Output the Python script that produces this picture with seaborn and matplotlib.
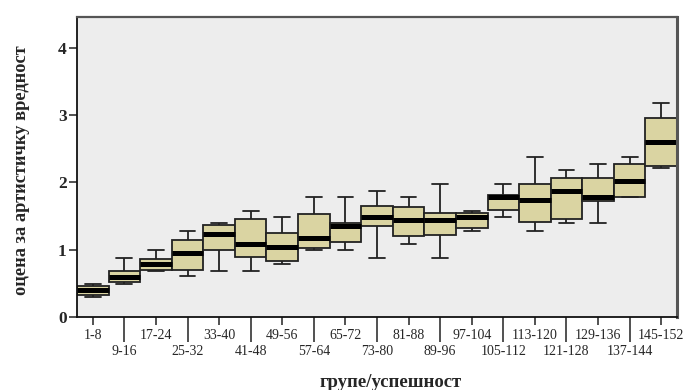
import numpy as np
import pandas as pd
import matplotlib
matplotlib.use("Agg")
import matplotlib.pyplot as plt
import seaborn as sns

groups = ["1-8", "9-16", "17-24", "25-32", "33-40", "41-48", "49-56", "57-64",
          "65-72", "73-80", "81-88", "89-96", "97-104", "105-112", "113-120",
          "121-128", "129-136", "137-144", "145-152"]
lo  = [0.29, 0.48, 0.68, 0.60, 0.68, 0.68, 0.78, 0.99, 0.99, 0.88, 1.08, 0.87, 1.27, 1.49, 1.27, 1.39, 1.39, 1.79, 2.21]
q1  = [0.32, 0.51, 0.69, 0.70, 1.00, 0.89, 0.83, 1.03, 1.11, 1.35, 1.20, 1.22, 1.32, 1.59, 1.41, 1.46, 1.72, 1.79, 2.25]
med = [0.40, 0.59, 0.78, 0.95, 1.23, 1.09, 1.04, 1.18, 1.35, 1.49, 1.44, 1.44, 1.49, 1.78, 1.74, 1.88, 1.78, 2.02, 2.61]
q3  = [0.46, 0.68, 0.86, 1.15, 1.37, 1.45, 1.24, 1.53, 1.39, 1.65, 1.64, 1.55, 1.55, 1.81, 1.97, 2.06, 2.06, 2.28, 2.96]
hi  = [0.48, 0.88, 1.00, 1.27, 1.39, 1.58, 1.49, 1.79, 1.79, 1.88, 1.79, 1.97, 1.58, 1.97, 2.38, 2.18, 2.28, 2.38, 3.19]

rows = []
for g, a, b, c, d, e in zip(groups, lo, q1, med, q3, hi):
    for v in (a, b, c, d, e):
        rows.append({"group": g, "value": v})
df = pd.DataFrame(rows)

sns.set_style("white")
plt.rcParams["font.family"] = ["Liberation Serif", "DejaVu Serif"]

fig = plt.figure(figsize=(6.87, 3.90), dpi=100)
ax = fig.add_axes([77/687, 1 - 316.7/390, 600/687, 300/390])
ax.set_facecolor("#EDEDED")

sns.boxplot(data=df, x="group", y="value", order=groups, width=1.0,
            whis=(0, 100), color="#DAD4A2", saturation=1, linecolor="#222222",
            linewidth=1.3, fliersize=0, ax=ax,
            medianprops=dict(color="black", linewidth=3.6))

ax.set_xlim(-0.5, len(groups) - 0.5)
ax.set_ylim(0, 4.47)
ax.set_yticks([0, 1, 2, 3, 4])
ax.set_yticklabels(["0", "1", "2", "3", "4"], fontweight="bold", fontsize=12.5)
ax.tick_params(axis="y", length=5.5, width=1.2, color="#333333", pad=2, direction="out", left=True)

even = list(range(0, len(groups), 2))
odd = list(range(1, len(groups), 2))
ax.set_xticks(even)
ax.set_xticklabels([groups[i] for i in even], fontsize=10)
ax.set_xticks(odd, minor=True)
ax.set_xticklabels([groups[i] for i in odd], minor=True, fontsize=10)
ax.tick_params(axis="x", which="major", length=5.8, width=1.2, color="#333333", pad=3, bottom=True)
ax.tick_params(axis="x", which="minor", length=18, width=1.2, color="#333333", pad=2.5, bottom=True)

for side in ["left", "bottom"]:
    ax.spines[side].set_color("#111111")
    ax.spines[side].set_linewidth(1.3)
for side in ["top", "right"]:
    ax.spines[side].set_color("#555555")
    ax.spines[side].set_linewidth(1.6)
ax.spines["right"].set_linewidth(2.2)

ax.set_xlabel("групе/успешност", fontsize=13.5, fontweight="bold")
ax.xaxis.set_label_coords(0.523, -0.19)
ax.set_ylabel("оцена за артистичку вредност", fontsize=13.2, fontweight="bold")
ax.yaxis.set_label_coords(-0.078, 0.49)

fig.savefig("out.png", dpi=100, facecolor="white")
